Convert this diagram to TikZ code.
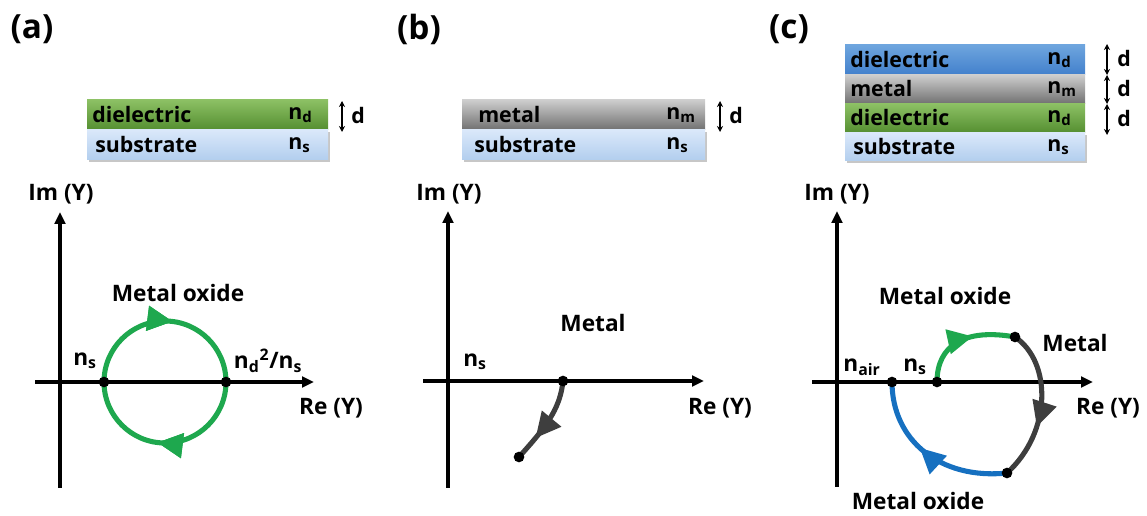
\documentclass[tikz,border=0pt]{standalone}
\usepackage{fontspec}
\setmainfont{Open Sans}
\usetikzlibrary{arrows.meta,decorations.markings}
\definecolor{grnTop}{RGB}{140,192,100}
\definecolor{grnBot}{RGB}{84,142,48}
\definecolor{subTop}{RGB}{218,232,250}
\definecolor{subBot}{RGB}{178,206,238}
\definecolor{metTop}{RGB}{205,205,205}
\definecolor{metBot}{RGB}{112,112,112}
\definecolor{bluTop}{RGB}{110,165,222}
\definecolor{bluBot}{RGB}{66,128,204}
\definecolor{curveGreen}{RGB}{30,168,78}
\definecolor{curveBlue}{RGB}{22,112,192}
\definecolor{curveGray}{RGB}{62,62,62}
\tikzset{
  lbl/.style={font=\fontsize{17}{20}\selectfont\bfseries, inner sep=0pt},
  panel/.style={font=\fontsize{25}{29}\selectfont\bfseries, inner sep=0pt},
  laytxt/.style={font=\fontsize{16}{19}\selectfont\bfseries, inner sep=0pt},
  axis/.style={line width=2.3pt, -{Triangle[length=9pt,width=8pt]}},
  dot/.style={circle, fill=black, inner sep=0pt, minimum size=8pt},
  dimarrow/.style={line width=1.2pt, {Stealth[length=4.5pt,width=4.5pt]}-{Stealth[length=4.5pt,width=4.5pt]}},
  curve/.style={line width=3.8pt},
  tipat/.style={postaction={decorate}, decoration={markings, mark=at position #1 with {\arrow{Triangle[length=19pt,width=18pt]}}}},
  shade/.style={fill=black!22},
}
\begin{document}
\begin{tikzpicture}[x=0.75pt,y=-0.75pt]
\useasboundingbox (0,0) rectangle (1147,516);

% ================= (a) =================
\node[panel] (pa) at (32,29) {(a)};
\fill[shade] (89,132) rectangle (330,162);
\shade[top color=grnTop, bottom color=grnBot] (87,100) rectangle (328,130);
\shade[top color=subTop, bottom color=subBot] (87,130) rectangle (328,160);
\node[laytxt, anchor=west] (a-diel) at (92,115) {dielectric};
\node[laytxt, anchor=west] (a-sub) at (95,145) {substrate};
\node[laytxt, anchor=west] (a-nd) at (288,115) {n\textsubscript{d}};
\node[laytxt, anchor=west] (a-ns2) at (288,145) {n\textsubscript{s}};
\coordinate (a-d1) at (342,101);
\coordinate (a-d2) at (342,132);
\draw[dimarrow] (a-d1) -- (a-d2);
\node[laytxt] (a-d) at (358,116) {d};

\coordinate (a-o1) at (60,488);
\coordinate (a-o2) at (60,212);
\coordinate (a-h1) at (35,382);
\coordinate (a-h2) at (314,382);
\draw[axis] (a-o1) -- (a-o2);
\draw[axis] (a-h1) -- (a-h2);
\node[lbl] (a-im) at (61,194) {Im (Y)};
\node[lbl] (a-re) at (331,408) {Re (Y)};

\coordinate (a-p1) at (104,382);
\coordinate (a-p2) at (226,382);
\draw[curve, curveGreen, tipat=0.27, tipat=0.77] (a-p1) arc[start angle=180, end angle=540, radius=61];
\node[dot] (a-dot1) at (a-p1) {};
\node[dot] (a-dot2) at (a-p2) {};
\node[lbl] (a-mo) at (178,293) {Metal oxide};
\node[lbl] (a-nslbl) at (85,361) {n\textsubscript{s}};
\node[lbl] (a-ndlbl) at (268,361) {n\textsubscript{d}\textsuperscript{2}/n\textsubscript{s}};

% ================= (b) =================
\node[panel] (pb) at (419,29) {(b)};
\fill[shade] (464,132) rectangle (707,162);
\shade[top color=metTop, bottom color=metBot] (462,100) rectangle (705,130);
\shade[top color=subTop, bottom color=subBot] (462,130) rectangle (705,160);
\node[laytxt, anchor=west] (b-met) at (478,115) {metal};
\node[laytxt, anchor=west] (b-sub) at (474,145) {substrate};
\node[laytxt, anchor=west] (b-nm) at (666,115) {n\textsubscript{m}};
\node[laytxt, anchor=west] (b-ns2) at (666,145) {n\textsubscript{s}};
\coordinate (b-d1) at (720,101);
\coordinate (b-d2) at (720,132);
\draw[dimarrow] (b-d1) -- (b-d2);
\node[laytxt] (b-d) at (736,116) {d};

\coordinate (b-o1) at (448,488);
\coordinate (b-o2) at (448,211);
\coordinate (b-h1) at (423,381);
\coordinate (b-h2) at (704,381);
\draw[axis] (b-o1) -- (b-o2);
\draw[axis] (b-h1) -- (b-h2);
\node[lbl] (b-im) at (449,194) {Im (Y)};
\node[lbl] (b-re) at (720,408) {Re (Y)};

\coordinate (b-p1) at (563,381);
\coordinate (b-p2) at (519,457);
\draw[curve, curveGray, tipat=0.72] (b-p1) .. controls (560,410) and (545,428) .. (b-p2);
\node[dot] (b-dot1) at (b-p1) {};
\node[dot] (b-dot2) at (b-p2) {};
\node[lbl] (b-metal) at (593,323) {Metal};
\node[lbl] (b-nslbl) at (475,362) {n\textsubscript{s}};

% ================= (c) =================
\node[panel] (pc) at (789,29) {(c)};
\fill[shade] (847,135) rectangle (1087,163);
\shade[top color=bluTop, bottom color=bluBot] (845,45) rectangle (1085,75);
\shade[top color=metTop, bottom color=metBot] (845,75) rectangle (1085,104);
\shade[top color=grnTop, bottom color=grnBot] (845,104) rectangle (1085,133);
\shade[top color=subTop, bottom color=subBot] (845,133) rectangle (1085,161);
\node[laytxt, anchor=west] (c-diel1) at (850,60) {dielectric};
\node[laytxt, anchor=west] (c-met) at (850,89) {metal};
\node[laytxt, anchor=west] (c-diel2) at (850,118) {dielectric};
\node[laytxt, anchor=west] (c-sub) at (853,147) {substrate};
\node[laytxt, anchor=west] (c-nd1) at (1047,60) {n\textsubscript{d}};
\node[laytxt, anchor=west] (c-nm) at (1047,89) {n\textsubscript{m}};
\node[laytxt, anchor=west] (c-nd2) at (1047,118) {n\textsubscript{d}};
\node[laytxt, anchor=west] (c-ns2) at (1047,147) {n\textsubscript{s}};
\coordinate (c-d0) at (1107,44);
\coordinate (c-d1) at (1107,75);
\coordinate (c-d2) at (1107,104);
\coordinate (c-d3) at (1107,135);
\draw[dimarrow] (c-d0) -- (c-d1);
\draw[dimarrow] (c-d1) -- (c-d2);
\draw[dimarrow] (c-d2) -- (c-d3);
\node[laytxt] (c-da) at (1124,59) {d};
\node[laytxt] (c-db) at (1124,89) {d};
\node[laytxt] (c-dc) at (1124,119) {d};

\coordinate (c-o1) at (837,487);
\coordinate (c-o2) at (837,211);
\coordinate (c-h1) at (812,382);
\coordinate (c-h2) at (1093,382);
\draw[axis] (c-o1) -- (c-o2);
\draw[axis] (c-h1) -- (c-h2);
\node[lbl] (c-im) at (837,194) {Im (Y)};
\node[lbl] (c-re) at (1108,408) {Re (Y)};

\coordinate (c-p1) at (937,382);
\coordinate (c-p2) at (1015,337);
\coordinate (c-p3) at (1007,473);
\coordinate (c-p4) at (892,382);
\draw[curve, curveGreen, tipat=0.6] (c-p1) .. controls (937,345) and (965,328) .. (c-p2);
\draw[curve, curveGray, tipat=0.64] (c-p2) .. controls (1052,362) and (1052,432) .. (c-p3);
\draw[curve, curveBlue, tipat=0.56] (c-p3) .. controls (940,480) and (892,440) .. (c-p4);
\node[dot] (c-dot1) at (c-p1) {};
\node[dot] (c-dot2) at (c-p2) {};
\node[dot] (c-dot3) at (c-p3) {};
\node[dot] (c-dot4) at (c-p4) {};
\node[lbl] (c-mo1) at (945,296) {Metal oxide};
\node[lbl] (c-metal) at (1075,343) {Metal};
\node[lbl] (c-nair) at (862,367) {n\textsubscript{air}};
\node[lbl] (c-nslbl) at (915,367) {n\textsubscript{s}};
\node[lbl] (c-mo2) at (918,501) {Metal oxide};
\end{tikzpicture}
\end{document}
